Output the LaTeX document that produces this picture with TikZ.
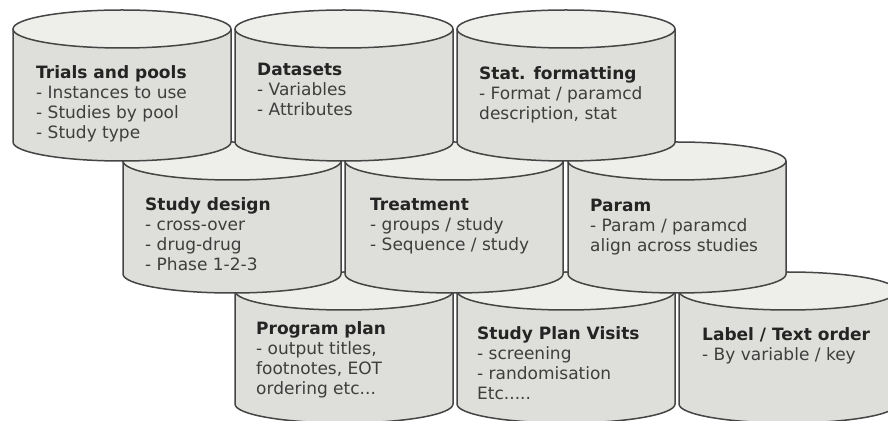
\documentclass[tikz,border=0pt]{standalone}
\usepackage{fontspec}
\setmainfont{DejaVu Sans}
\usepackage{tikz}
\usetikzlibrary{positioning}
\definecolor{cylgrey}{HTML}{DEDEDA}
\definecolor{cyllid}{HTML}{EEEEEB}
\definecolor{cylrim}{HTML}{454545}
\definecolor{cyltitle}{HTML}{242424}
\definecolor{cylbody}{HTML}{3E3E3E}

\begin{document}
\begin{tikzpicture}[
        x=1pt,
        y=1pt,
        font=\fontsize{17}{20}\selectfont,
        cylfill/.style={
            fill=cylgrey
        },
        lidfill/.style={
            fill=cyllid
        },
        rimline/.style={
            draw=cylrim,
            line width=1.5pt,
            line join=round
        },
        cyltext/.style={
            anchor=north west,
            align=left,
            inner sep=0pt,
            text=cylbody
        },
        dbcyl/.pic={
            \path[cylfill]
                (0,0) -- (0,-113)
                arc[start angle=180, end angle=360, x radius=109pt, y radius=19pt]
                -- (218,0) -- cycle;
            \path[lidfill]
                (109,0) ellipse[x radius=109pt, y radius=19pt];
            \draw[rimline]
                (0,0) -- (0,-113)
                arc[start angle=180, end angle=360, x radius=109pt, y radius=19pt]
                -- (218,0);
            \draw[rimline]
                (109,0) ellipse[x radius=109pt, y radius=19pt];
        }
    ]

        \useasboundingbox
            (0,0) rectangle (888,420);
        \clip
            (0,0) rectangle (888,420);

        % Bottom row (drawn first, sits behind)
        \pic at (235,129) {dbcyl};
        \pic at (457,129) {dbcyl};
        \pic at (679,129) {dbcyl};

        % Middle row
        \pic at (123,259) {dbcyl};
        \pic at (345,259) {dbcyl};
        \pic at (568,259) {dbcyl};

        % Top row (in front)
        \pic at (13,391) {dbcyl};
        \pic at (235,391) {dbcyl};
        \pic at (457,391) {dbcyl};

        % Labels: top row
        \node[cyltext] (trials) at (36,355)
            {\textcolor{cyltitle}{\bfseries Trials and pools}\\
             - Instances to use\\
             - Studies by pool\\
             - Study type};

        \node[cyltext] (datasets) at (257,357)
            {\textcolor{cyltitle}{\bfseries Datasets}\\
             - Variables\\
             - Attributes};

        \node[cyltext] (statfmt) at (479,354)
            {\textcolor{cyltitle}{\bfseries Stat. formatting}\\
             - Format / paramcd\\
             description, stat};

        % Labels: middle row
        \node[cyltext] (design) at (145,223)
            {\textcolor{cyltitle}{\bfseries Study design}\\
             - cross-over\\
             - drug-drug\\
             - Phase 1-2-3};

        \node[cyltext] (treatment) at (370,222)
            {\textcolor{cyltitle}{\bfseries Treatment}\\
             - groups / study\\
             - Sequence / study};

        \node[cyltext] (param) at (590,221)
            {\textcolor{cyltitle}{\bfseries Param}\\
             - Param / paramcd\\
             align across studies};

        % Labels: bottom row
        \node[cyltext] (progplan) at (256,99)
            {\textcolor{cyltitle}{\bfseries Program plan}\\
             - output titles,\\
             footnotes, EOT\\
             ordering etc...};

        \node[cyltext] (visits) at (477,94)
            {\textcolor{cyltitle}{\bfseries Study Plan Visits}\\
             - screening\\
             - randomisation\\
             Etc.....};

        \node[cyltext] (textorder) at (702,93)
            {\textcolor{cyltitle}{\bfseries Label / Text order}\\
             - By variable / key};

    \end{tikzpicture}
\end{document}
